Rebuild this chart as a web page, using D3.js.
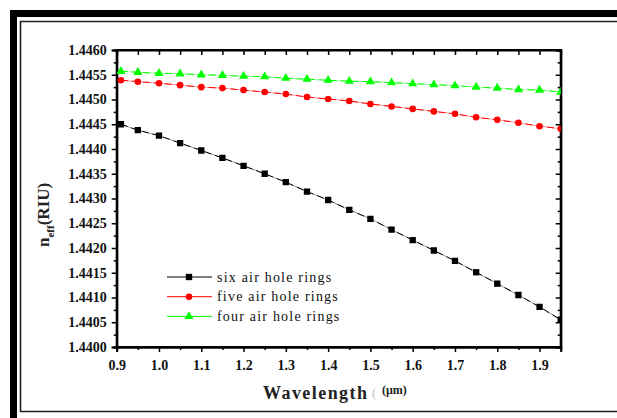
<!DOCTYPE html>
<html>
<head>
<meta charset="utf-8">
<script src="https://cdn.jsdelivr.net/npm/d3@7"></script>
<style>
  body { margin: 0; background: #fff; }
  svg { display: block; }
  .legend-text { font-family: "Liberation Serif", "Times New Roman", serif; font-size: 14px; letter-spacing: 1.2px; fill: #111; }
</style>
</head>
<body>
<svg id="chart" width="617" height="418"></svg>
<script>
// wavelength in um
const wavelength = [0.91, 0.95, 1.00, 1.05, 1.10, 1.15, 1.20, 1.25, 1.30, 1.35, 1.40,
                    1.45, 1.50, 1.55, 1.60, 1.65, 1.70, 1.75, 1.80, 1.85, 1.90, 1.95];

// effective index
const sixRings  = [1.44450, 1.44438, 1.44427, 1.44412, 1.44397, 1.44382, 1.44366, 1.44350, 1.44333, 1.44314, 1.44297,
                   1.44277, 1.44259, 1.44237, 1.44216, 1.44195, 1.44174, 1.44151, 1.44128, 1.44105, 1.44081, 1.44055];
const fiveRings = [1.44539, 1.44536, 1.44533, 1.44529, 1.44525, 1.44523, 1.44519, 1.44515, 1.44511, 1.44505, 1.44501,
                   1.44497, 1.44491, 1.44486, 1.44481, 1.44476, 1.44471, 1.44464, 1.44459, 1.44453, 1.44446, 1.44441];
const fourRings = [1.44557, 1.44555, 1.44553, 1.44552, 1.44550, 1.44549, 1.44547, 1.44546, 1.44543, 1.44541, 1.44539,
                   1.44537, 1.44536, 1.44534, 1.44532, 1.44530, 1.44528, 1.44525, 1.44523, 1.44520, 1.44519, 1.44515];

const seriesNames = ["six air hole rings", "five air hole rings", "four air hole rings"];

const xTickValues = [0.9, 1.0, 1.1, 1.2, 1.3, 1.4, 1.5, 1.6, 1.7, 1.8, 1.9];
const xMinorTicks = [0.95, 1.05, 1.15, 1.25, 1.35, 1.45, 1.55, 1.65, 1.75, 1.85, 1.95];
const yTickValues = [1.4400, 1.4405, 1.4410, 1.4415, 1.4420, 1.4425, 1.4430, 1.4435, 1.4440, 1.4445, 1.4450, 1.4455, 1.4460];
const yMinorTicks = [1.44025, 1.44075, 1.44125, 1.44175, 1.44225, 1.44275, 1.44325, 1.44375, 1.44425, 1.44475, 1.44525, 1.44575];

const svg = d3.select("#chart");
const serif = "Liberation Serif, Times New Roman, serif";

// frame around the figure
svg.append("rect").attr("x", 10).attr("y", 10).attr("width", 7).attr("height", 408).attr("fill", "#000");
svg.append("rect").attr("x", 10).attr("y", 10).attr("width", 607).attr("height", 7).attr("fill", "#000");
svg.append("path")
  .attr("d", "M617,21.5 H20.5 V411.5 H617")
  .attr("fill", "none").attr("stroke", "#222").attr("stroke-width", 1.6);

const plotLeft = 116.7, plotRight = 560.7, plotTop = 50, plotBottom = 347;

const x = d3.scaleLinear().domain([0.9, 1.95]).range([plotLeft, plotRight]);
const y = d3.scaleLinear().domain([1.4400, 1.4460]).range([plotBottom, plotTop]);

// clip for the data
svg.append("clipPath").attr("id", "plot-clip")
  .append("rect").attr("x", plotLeft).attr("y", plotTop)
  .attr("width", plotRight - plotLeft).attr("height", plotBottom - plotTop);

// axes
const fmtY = d3.format(".4f");
const fmtX = d3.format(".1f");

function styleAxis(g) {
  g.attr("font-family", serif).attr("font-size", 14).attr("font-weight", "bold");
  g.selectAll(".tick text").attr("fill", "#111");
}

svg.append("g").attr("transform", `translate(0,${plotBottom})`)
  .call(d3.axisBottom(x).tickValues(xTickValues).tickFormat(fmtX).tickSize(5).tickPadding(8))
  .call(styleAxis);
svg.append("g").attr("transform", `translate(0,${plotBottom})`)
  .call(d3.axisBottom(x).tickValues(xMinorTicks).tickFormat("").tickSize(3));
svg.append("g").attr("transform", `translate(0,${plotTop})`)
  .call(d3.axisBottom(x).tickValues(xTickValues.concat(xMinorTicks)).tickFormat("").tickSize(5));

svg.append("g").attr("transform", `translate(${plotLeft},0)`)
  .call(d3.axisLeft(y).tickValues(yTickValues).tickFormat(fmtY).tickSize(5).tickPadding(5))
  .call(styleAxis);
svg.append("g").attr("transform", `translate(${plotLeft},0)`)
  .call(d3.axisLeft(y).tickValues(yMinorTicks).tickFormat("").tickSize(3));
svg.append("g").attr("transform", `translate(${plotRight},0)`)
  .call(d3.axisLeft(y).tickValues(yTickValues).tickFormat("").tickSize(5));
svg.append("g").attr("transform", `translate(${plotRight},0)`)
  .call(d3.axisLeft(y).tickValues(yMinorTicks).tickFormat("").tickSize(3));

svg.selectAll(".domain").attr("stroke", "#000").attr("stroke-width", 2);
svg.selectAll(".tick line").attr("stroke", "#000").attr("stroke-width", 1.5);

// plot box
svg.append("rect").attr("x", plotLeft).attr("y", plotTop)
  .attr("width", plotRight - plotLeft).attr("height", plotBottom - plotTop)
  .attr("fill", "none").attr("stroke", "#000").attr("stroke-width", 2);

// series
const series = [
  { name: seriesNames[0], values: sixRings,  color: "#000000", light: "#9a9a9a", symbol: d3.symbolSquare,   size: 40 },
  { name: seriesNames[1], values: fiveRings, color: "#ff0000", light: "#ff9a9a", symbol: d3.symbolCircle,   size: 34 },
  { name: seriesNames[2], values: fourRings, color: "#00ff00", light: "#a0ffa0", symbol: d3.symbolTriangle, size: 36 }
];

const line = d3.line()
  .x((d, i) => x(wavelength[i]))
  .y(d => y(d));

const dataG = svg.append("g").attr("clip-path", "url(#plot-clip)");

series.forEach(s => {
  dataG.append("path").datum(s.values)
    .attr("d", line).attr("fill", "none")
    .attr("stroke", s.light).attr("stroke-width", 1);
  dataG.append("path").datum(s.values)
    .attr("d", line).attr("fill", "none")
    .attr("stroke", s.color).attr("stroke-width", 1)
    .attr("stroke-dasharray", "7,4");
  dataG.selectAll(null).data(s.values).join("path")
    .attr("transform", (d, i) => `translate(${x(wavelength[i])},${y(d)})`)
    .attr("d", d3.symbol().type(s.symbol).size(s.size))
    .attr("fill", s.color);
});

// legend
const legend = svg.append("g").attr("transform", "translate(167,277)");
series.forEach((s, i) => {
  const row = legend.append("g").attr("transform", `translate(0,${i * 19.7})`);
  row.append("line").attr("x1", 0).attr("x2", 45).attr("y1", 0).attr("y2", 0)
    .attr("stroke", s.color).attr("stroke-width", 1);
  row.append("path").attr("transform", "translate(22,0)")
    .attr("d", d3.symbol().type(s.symbol).size(s.size)).attr("fill", s.color);
  row.append("text").attr("class", "legend-text")
    .attr("x", 50).attr("y", 4.5).text(s.name);
});

// axis titles
svg.append("text")
  .attr("x", 263).attr("y", 399)
  .attr("font-family", serif)
  .attr("font-weight", "bold").attr("font-size", 18).attr("fill", "#222")
  .attr("textLength", 104).attr("lengthAdjust", "spacing")
  .text("Wavelength");
svg.append("text").attr("x", 372).attr("y", 397)
  .attr("font-family", serif).attr("font-size", 12).attr("fill", "#bbb")
  .text("(");
svg.append("text").attr("x", 382).attr("y", 394)
  .attr("font-family", serif)
  .attr("font-weight", "bold").attr("font-size", 12).attr("fill", "#222")
  .text("(μm)");

const yTitle = svg.append("text")
  .attr("transform", "translate(49,247) rotate(-90)")
  .attr("font-family", serif)
  .attr("font-weight", "bold").attr("font-size", 17).attr("fill", "#222");
yTitle.append("tspan").text("n");
yTitle.append("tspan").attr("font-size", 11).attr("dy", 5).text("eff");
yTitle.append("tspan").attr("dy", -5).text("(RIU)");
</script>
</body>
</html>
